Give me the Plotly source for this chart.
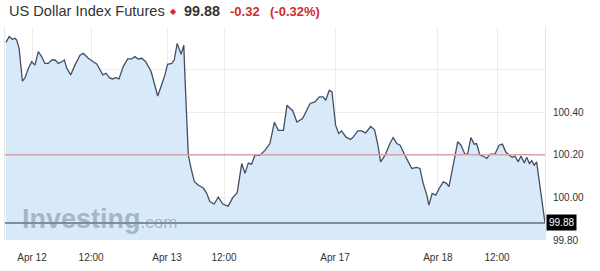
import plotly.graph_objects as go

# bar index positions (session-based axis) and prices
bars = [0.3, 1.4, 2.4, 3.3, 3.9, 4.7, 5.8, 6.7, 7.8, 8.9, 10.0, 11.1, 12.2, 13.3, 14.4, 15.6,
        16.7, 17.8, 18.9, 19.8, 20.6, 21.9, 23.3, 25.0, 26.1, 27.8, 29.4, 30.6, 31.7, 32.6,
        33.7, 34.8, 35.8, 36.9, 38.0, 39.4, 40.9, 42.2, 43.3, 44.4, 45.6, 46.9, 48.7, 50.0,
        50.9, 52.2, 53.3, 54.2, 55.6, 56.4, 57.4, 58.7, 59.6, 60.0, 60.6, 61.1, 62.0, 63.1,
        64.4, 66.1, 67.2, 68.3, 69.7, 71.1, 72.6, 74.4, 75.9, 77.4, 78.9, 80.0, 81.1, 82.2,
        83.3, 85.0, 86.7, 88.3, 89.8, 91.1, 92.8, 94.0, 95.9, 97.3, 99.2, 100.7, 101.7, 103.3,
        104.8, 106.0, 106.9, 108.1, 109.0, 110.2, 111.2, 112.2, 113.6, 115.2, 116.1, 117.6,
        118.9, 120.2, 121.9, 123.2, 124.2, 125.2, 126.7, 128.3, 129.4, 130.6, 131.7, 133.3,
        135.6, 137.2, 138.3, 139.4, 140.6, 141.3, 142.4, 143.6, 144.7, 146.1, 147.2, 148.0,
        149.4, 150.9, 152.0, 153.3, 154.2, 155.3, 156.4, 157.2, 158.3, 159.4, 160.6, 161.7,
        163.3, 164.7, 165.8, 166.9, 168.0, 169.1, 170.0, 171.1, 172.0, 173.1, 173.9, 174.8,
        175.6, 176.4, 177.2, 178.3, 179.1, 180.0]

prices = [100.728, 100.755, 100.742, 100.747, 100.739, 100.700, 100.546, 100.562, 100.606,
          100.637, 100.621, 100.684, 100.661, 100.629, 100.629, 100.645, 100.645, 100.629,
          100.637, 100.645, 100.606, 100.575, 100.621, 100.668, 100.676, 100.653, 100.637,
          100.626, 100.598, 100.575, 100.583, 100.562, 100.556, 100.562, 100.556, 100.614,
          100.650, 100.650, 100.661, 100.650, 100.653, 100.637, 100.591, 100.520, 100.476,
          100.528, 100.575, 100.625, 100.629, 100.645, 100.723, 100.672, 100.715, 100.559,
          100.325, 100.200, 100.137, 100.075, 100.058, 100.044, 100.020, 99.980, 99.969,
          100.001, 99.969, 99.959, 99.999, 100.022, 100.159, 100.113, 100.161, 100.156,
          100.198, 100.198, 100.222, 100.253, 100.353, 100.315, 100.315, 100.433, 100.407,
          100.354, 100.370, 100.417, 100.441, 100.448, 100.472, 100.472, 100.456, 100.503,
          100.495, 100.339, 100.300, 100.312, 100.284, 100.272, 100.284, 100.312, 100.312,
          100.303, 100.333, 100.317, 100.253, 100.167, 100.198, 100.253, 100.281, 100.253,
          100.245, 100.198, 100.136, 100.141, 100.136, 100.066, 100.011, 99.964, 100.019,
          100.011, 100.042, 100.073, 100.066, 100.050, 100.159, 100.261, 100.245, 100.203,
          100.203, 100.281, 100.250, 100.253, 100.198, 100.194, 100.183, 100.203, 100.203,
          100.245, 100.250, 100.214, 100.198, 100.188, 100.194, 100.167, 100.194, 100.162,
          100.188, 100.159, 100.172, 100.151, 100.167, 100.050, 99.972, 99.880]

tick_bars = [9.0, 28.7, 54.0, 73.0, 110.0, 144.3, 164.0]
tick_labels = ["Apr 12", "12:00", "Apr 13", "12:00", "Apr 17", "Apr 18", "12:00"]

y_ticks = [99.8, 100.0, 100.2, 100.4, 100.6]
y_labels = ["99.80", "100.00", "100.20", "100.40", ""]

title = "US Dollar Index Futures"
last_price = 99.88
prev_close = 100.20
change = "-0.32"
change_pct = "(-0.32%)"

FONT = "Liberation Sans, Arial, sans-serif"
RED = "#cc2f2f"

fig = go.Figure()
fig.add_trace(go.Scatter(
    x=bars, y=prices, mode="lines",
    line=dict(color="#424f63", width=1.3),
    fill="tozeroy", fillcolor="#d8e9fa",
    hoverinfo="skip", showlegend=False,
))

fig.add_hline(y=prev_close, line=dict(color="#d6a3a6", width=1.5), layer="above")
fig.add_hline(y=last_price, line=dict(color="#5d6f84", width=1.5), layer="above")

fig.add_annotation(
    xref="paper", yref="y", x=1.0, y=last_price, xanchor="left", yanchor="middle",
    text=f"{last_price:.2f}", showarrow=False, bgcolor="#000000", borderpad=2, xshift=1,
    font=dict(family=FONT, size=10, color="#ffffff"),
)

# watermark
fig.add_annotation(
    xref="paper", yref="paper", x=0.027, y=0.0, xanchor="left", yanchor="bottom", yshift=4,
    text="<b>Investing</b><span style='font-size:17px'>.com</span>", showarrow=False,
    font=dict(family=FONT, size=27, color="rgba(125,138,155,0.55)"),
)

# header pieces
header = [
    (2, title, 14.6, "#333333", False),
    (163, "◆", 8, "#d9262f", False),
    (177, f"{last_price:.2f}", 14.4, "#333333", True),
    (223, change, 13, RED, True),
    (263, change_pct, 13, RED, True),
]
for xs, txt, sz, col, bold in header:
    fig.add_annotation(
        xref="paper", yref="paper", x=0, y=1, xanchor="left", yanchor="middle",
        xshift=xs, yshift=16, showarrow=False,
        text=f"<b>{txt}</b>" if bold else txt,
        font=dict(family=FONT, size=sz, color=col),
    )

fig.update_layout(
    width=600, height=271,
    margin=dict(l=5, r=55, t=27, b=31),
    paper_bgcolor="#ffffff", plot_bgcolor="#ffffff",
    xaxis=dict(
        range=[0, 180], tickvals=tick_bars, ticktext=tick_labels,
        showgrid=True, gridcolor="#ececec", gridwidth=1, zeroline=False,
        showline=False, ticks="", ticklabelstandoff=10,
        tickfont=dict(family=FONT, size=10, color="#333333"),
        fixedrange=True,
    ),
    yaxis=dict(
        range=[99.8, 100.8], side="right", tickvals=y_ticks, ticktext=y_labels,
        showgrid=True, gridcolor="#ececec", gridwidth=1, zeroline=False,
        showline=True, linecolor="#e4e4e4", mirror=True, ticks="", ticklabelstandoff=5,
        tickfont=dict(family=FONT, size=10, color="#333333"),
        fixedrange=True,
    ),
)

fig.write_html("out.html")
